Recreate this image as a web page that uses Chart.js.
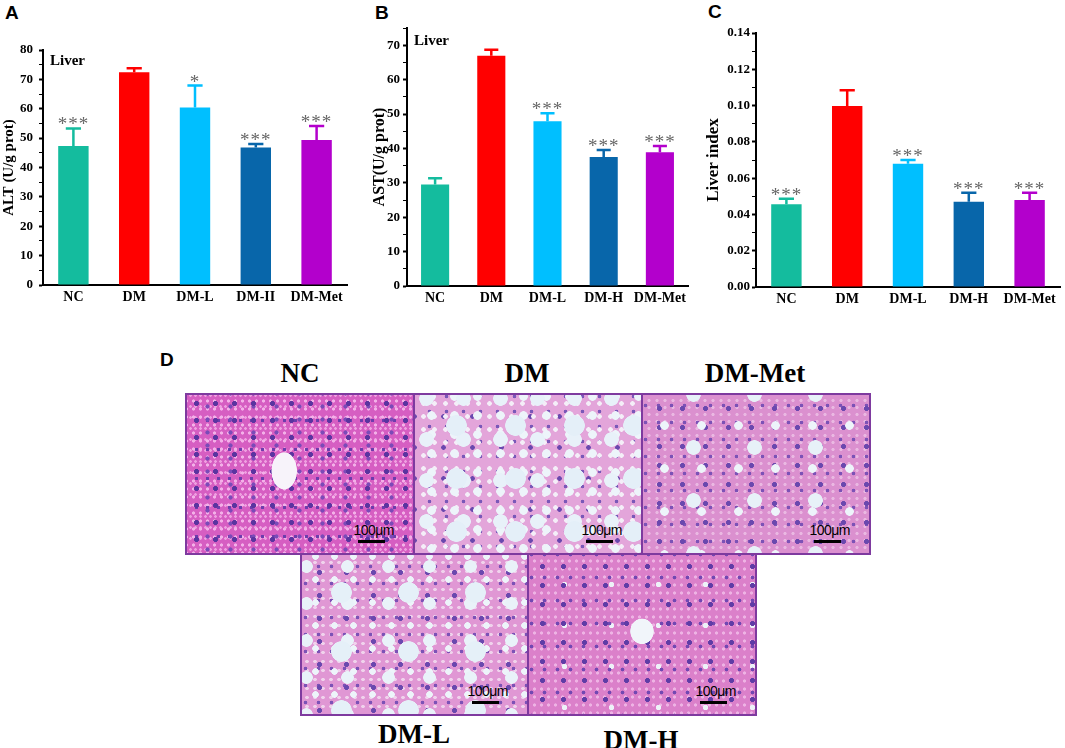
<!DOCTYPE html>
<html>
<head>
<meta charset="utf-8">
<script src="https://cdn.jsdelivr.net/npm/chart.js@4.4.0/dist/chart.umd.min.js"></script>
<style>
  body { margin: 0; background: #fff; width: 1065px; height: 748px; position: relative; overflow: hidden; }
  .letter { position: absolute; font: bold 19px 'Liberation Sans', Arial, sans-serif; color: #000; }
  canvas.cv { position: absolute; top: 0; }
  .tile { position: absolute; box-sizing: border-box; border: 2px solid #7e3a9f; }
  .cap { position: absolute; font: bold 27px 'Liberation Serif', 'Times New Roman', serif; color: #000; transform: translateX(-50%); white-space: nowrap; }
  .sbt { position: absolute; right: 19px; bottom: 15px; font: 14px 'Liberation Sans', Arial, sans-serif; letter-spacing: -0.5px; color: #000; }
  .sbb { position: absolute; right: 28px; bottom: 10px; width: 27px; height: 3px; background: #000; }
  .nc { background-color: #d65ec2;
    background-image:
      radial-gradient(ellipse 13px 19px at 43% 48%, #f7f3fa 95%, transparent 100%),
      radial-gradient(circle, #5a34a0 0 2.2px, transparent 2.8px),
      radial-gradient(circle, #7b4ab8 0 1.8px, transparent 2.4px),
      radial-gradient(circle, #6c3cac 0 1.4px, transparent 2px),
      radial-gradient(circle, #f3b0e8 0 1.3px, transparent 1.9px),
      radial-gradient(circle, #eea0e0 0 1px, transparent 1.6px);
    background-size: 100% 100%, 19px 17px, 23px 13px, 11px 29px, 7px 8px, 5px 11px;
    background-position: 0 0, 0 0, 9px 5px, 4px 11px, 3px 2px, 1px 6px;
    background-repeat: no-repeat, repeat, repeat, repeat, repeat, repeat; }
  .dm { background-color: #e3a5da;
    background-image:
      radial-gradient(circle, #e4eff8 0 10px, transparent 10.6px),
      radial-gradient(circle, #e8f1f9 0 7px, transparent 7.6px),
      radial-gradient(circle, #edf4fa 0 4px, transparent 4.6px),
      radial-gradient(circle, #f4eef8 0 2px, transparent 2.6px),
      radial-gradient(circle, #6a48ae 0 2px, transparent 2.6px),
      radial-gradient(circle, #7a58b8 0 1.5px, transparent 2.1px);
    background-size: 59px 53px, 37px 41px, 23px 19px, 11px 13px, 29px 31px, 17px 15px;
    background-position: 12px 4px, 30px 24px, 5px 11px, 3px 2px, 14px 6px, 6px 9px; }
  .met { background-color: #db90cf;
    background-image:
      radial-gradient(circle, #e7f1f8 0 7px, transparent 7.6px),
      radial-gradient(circle, #edf4fa 0 4px, transparent 4.6px),
      radial-gradient(circle, #6a48ae 0 2.2px, transparent 2.8px),
      radial-gradient(circle, #7c52b6 0 1.5px, transparent 2.1px),
      radial-gradient(circle, #eab8e2 0 1.3px, transparent 1.9px);
    background-size: 61px 53px, 37px 43px, 23px 19px, 13px 17px, 8px 7px;
    background-position: 20px 26px, 3px 9px, 5px 4px, 9px 2px, 2px 2px; }
  .dml { background-color: #e097d4;
    background-image:
      radial-gradient(circle, #e5f0f8 0 10px, transparent 10.6px),
      radial-gradient(circle, #e9f2f9 0 6px, transparent 6.6px),
      radial-gradient(circle, #edf4fa 0 3px, transparent 3.6px),
      radial-gradient(circle, #6a48ae 0 2.2px, transparent 2.8px),
      radial-gradient(circle, #7c52b6 0 1.5px, transparent 2.1px),
      radial-gradient(circle, #f0d2ec 0 1.5px, transparent 2px);
    background-size: 67px 59px, 41px 37px, 19px 23px, 27px 23px, 13px 17px, 8px 9px;
    background-position: 6px 8px, 25px 30px, 4px 13px, 4px 6px, 10px 3px, 1px 3px; }
  .dmh { background-color: #db80ca;
    background-image:
      radial-gradient(ellipse 12px 13px at 50% 48%, #f1f5fa 95%, transparent 100%),
      radial-gradient(circle, #5f3ca6 0 2.2px, transparent 2.8px),
      radial-gradient(circle, #7248b2 0 1.6px, transparent 2.2px),
      radial-gradient(circle, #edf2f8 0 2.5px, transparent 3px),
      radial-gradient(circle, #eeb3e4 0 1.3px, transparent 1.9px);
    background-size: 100% 100%, 21px 19px, 13px 23px, 47px 41px, 7px 8px;
    background-position: 0 0, 3px 2px, 9px 11px, 12px 9px, 2px 2px;
    background-repeat: no-repeat, repeat, repeat, repeat, repeat; }
</style>
</head>
<body>
<div class="letter" style="left:5px;top:2px">A</div>
<div class="letter" style="left:375px;top:2px">B</div>
<div class="letter" style="left:708px;top:1px">C</div>
<div class="letter" style="left:160px;top:349px">D</div>

<canvas id="chA" class="cv" width="355" height="315" style="left:0px"></canvas>
<canvas id="chB" class="cv" width="340" height="315" style="left:370px"></canvas>
<canvas id="chC" class="cv" width="362" height="315" style="left:703px"></canvas>

<div class="cap" style="left:300px;top:358px">NC</div>
<div class="cap" style="left:527px;top:358px">DM</div>
<div class="cap" style="left:755px;top:358px">DM-Met</div>
<div class="tile nc" style="left:185px;top:393px;width:230px;height:162px"><div class="sbt">100μm</div><div class="sbb"></div></div>
<div class="tile dm" style="left:413px;top:393px;width:230px;height:162px"><div class="sbt">100μm</div><div class="sbb"></div></div>
<div class="tile met" style="left:641px;top:393px;width:230px;height:162px"><div class="sbt">100μm</div><div class="sbb"></div></div>
<div class="tile dml" style="left:300px;top:553px;width:229px;height:163px"><div class="sbt">100μm</div><div class="sbb"></div></div>
<div class="tile dmh" style="left:527px;top:553px;width:230px;height:163px"><div class="sbt">100μm</div><div class="sbb"></div></div>
<div class="cap" style="left:414px;top:719px">DM-L</div>
<div class="cap" style="left:641px;top:725px">DM-H</div>

<script>
// groups and colours
const groupsA = ['NC', 'DM', 'DM-L', 'DM-II', 'DM-Met'];
const groups = ['NC', 'DM', 'DM-L', 'DM-H', 'DM-Met'];
const barColors = ['#14bc9e', '#ff0000', '#00bfff', '#0866aa', '#b300cc'];

// A: ALT
const altMean = [47.3, 72.4, 60.4, 46.8, 49.4];
const altErr = [6.0, 1.4, 7.5, 1.2, 4.7];
const altSig = ['***', '', '*', '***', '***'];

// B: AST
const astMean = [29.5, 66.9, 47.9, 37.5, 38.9];
const astErr = [1.8, 1.8, 2.3, 2.0, 1.8];
const astSig = ['', '', '***', '***', '***'];

// C: liver index
const idxMean = [0.0456, 0.0998, 0.068, 0.047, 0.048];
const idxErr = [0.0031, 0.0086, 0.002, 0.005, 0.004];
const idxSig = ['***', '', '***', '***', '***'];

const serif = "'Liberation Serif', 'Times New Roman', serif";

// error bars, significance stars and the "Liver" note
const errBars = {
  id: 'errBars',
  afterDatasetsDraw(chart, args, o) {
    const ctx = chart.ctx;
    const y = chart.scales.y;
    const meta = chart.getDatasetMeta(0);
    ctx.save();
    meta.data.forEach((bar, i) => {
      const top = y.getPixelForValue(o.means[i] + o.errs[i]);
      const half = bar.width / 4;
      ctx.strokeStyle = barColors[i];
      ctx.lineWidth = 2.5;
      ctx.beginPath();
      ctx.moveTo(bar.x, bar.y);
      ctx.lineTo(bar.x, top);
      ctx.moveTo(bar.x - half, top);
      ctx.lineTo(bar.x + half, top);
      ctx.stroke();
      if (o.sigs[i]) {
        ctx.fillStyle = '#666';
        ctx.font = '19px ' + serif;
        ctx.letterSpacing = '1px';
        ctx.textAlign = 'center';
        ctx.textBaseline = 'alphabetic';
        ctx.fillText(o.sigs[i], bar.x, top + 2);
      }
    });
    if (o.note) {
      ctx.letterSpacing = '0px';
      ctx.fillStyle = '#000';
      ctx.font = 'bold 15px ' + serif;
      ctx.textAlign = 'left';
      ctx.fillText(o.note, chart.chartArea.left + 7, chart.chartArea.top + o.noteY);
    }
    ctx.restore();
  }
};

function isMajor(v, step) {
  return Math.abs(v / step - Math.round(v / step)) < 1e-6;
}

function makeChart(id, labels, means, errs, sigs, cfg) {
  return new Chart(document.getElementById(id), {
    type: 'bar',
    data: {
      labels: labels,
      datasets: [{
        data: means,
        backgroundColor: barColors,
        borderWidth: 0,
        barPercentage: 0.5,
        categoryPercentage: 1
      }]
    },
    options: {
      responsive: false,
      animation: false,
      devicePixelRatio: 1,
      layout: { padding: { top: cfg.padTop, right: cfg.padRight, left: 0, bottom: 0 } },
      plugins: {
        legend: { display: false },
        tooltip: { enabled: false },
        errBars: { means: means, errs: errs, sigs: sigs, note: cfg.note, noteY: cfg.noteY }
      },
      scales: {
        x: {
          grid: { display: false, drawTicks: false },
          border: { display: true, color: '#000', width: 2 },
          ticks: { color: '#000', font: { family: serif, weight: 'bold', size: 14 }, padding: 4, maxRotation: 0, autoSkip: false },
          afterFit: s => { s.height = cfg.xH; }
        },
        y: {
          min: 0,
          max: cfg.max,
          border: { display: true, color: '#000', width: 2 },
          grid: {
            drawOnChartArea: false,
            drawTicks: true,
            tickLength: 4,
            tickColor: '#000',
            tickWidth: c => (c.tick && isMajor(c.tick.value, cfg.step)) ? 2 : 1
          },
          ticks: {
            stepSize: cfg.step / 2,
            autoSkip: false,
            color: '#000',
            padding: cfg.tickPad,
            font: { family: serif, weight: 'bold', size: 13 },
            callback: v => isMajor(v, cfg.step) ? v.toFixed(cfg.dec) : ''
          },
          title: {
            display: true,
            text: cfg.title,
            color: '#000',
            padding: { top: 0, bottom: 0 },
            font: { family: serif, weight: 'bold', size: cfg.titleSize }
          },
          afterFit: s => { s.width = cfg.yW; }
        }
      }
    },
    plugins: [errBars]
  });
}

makeChart('chA', groupsA, altMean, altErr, altSig,
  { max: 80, step: 10, dec: 0, title: 'ALT (U/g prot)', titleSize: 15, yW: 43, xH: 30, padTop: 50, padRight: 8, tickPad: 6, note: 'Liver', noteY: 15 });
makeChart('chB', groups, astMean, astErr, astSig,
  { max: 75, step: 10, dec: 0, title: 'AST(U/g prot)', titleSize: 16, yW: 37, xH: 29, padTop: 28, padRight: 22, tickPad: 3, note: 'Liver', noteY: 17 });
makeChart('chC', groups, idxMean, idxErr, idxSig,
  { max: 0.14, step: 0.02, dec: 2, title: 'Liver index', titleSize: 17, yW: 53, xH: 28, padTop: 33, padRight: 5, tickPad: 2, note: '', noteY: 0 });
</script>
</body>
</html>
